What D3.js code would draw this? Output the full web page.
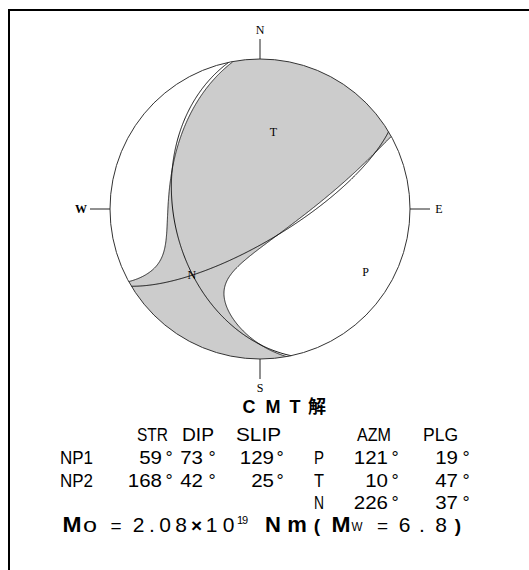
<!DOCTYPE html>
<html>
<head>
<meta charset="utf-8">
<script src="https://cdn.jsdelivr.net/npm/d3@7"></script>
<style>
  html, body { margin: 0; padding: 0; background: #fff; }
  svg { display: block; }
</style>
</head>
<body>
<script>
// ---- Focal mechanism (CMT solution) ----
// Nodal planes
const planeNames = ["NP1", "NP2"];
const strikes = [59, 168];
const dips = [73, 42];
const slips = [129, 25];

// Principal axes (P, T, N): azimuth, plunge and relative eigenvalues
const axisNames = ["P", "T", "N"];
const azimuths = [121, 10, 226];
const plunges = [19, 47, 37];
const eigenvalues = [-1.11, 1.0, 0.11];

// Scalar moment and magnitude
const momentMantissa = "2.08";
const momentExponent = "19";
const magnitude = "6.8";

// Compass directions
const compassLabels = ["N", "E", "S", "W"];
const compassAzimuths = [0, 90, 180, 270];

// Table headers
const planeHeaders = ["STR", "DIP", "SLIP"];
const axisHeaders = ["AZM", "PLG"];

// ---- Layout ----
const W = 529, H = 570;
const cx = 260, cy = 209, R = 150;
const rad = Math.PI / 180;

const svg = d3.select("body").append("svg")
  .attr("width", W).attr("height", H);

// frame
svg.append("rect")
  .attr("x", 9).attr("y", 10).attr("width", 600).attr("height", 600)
  .attr("fill", "none").attr("stroke", "#000").attr("stroke-width", 2);

// unit disc -> screen
const x = d3.scaleLinear().domain([-1, 1]).range([cx - R, cx + R]);
const y = d3.scaleLinear().domain([-1, 1]).range([cy + R, cy - R]);

// vectors are [north, east, down]
function axisVec(az, pl) {
  return [Math.cos(pl * rad) * Math.cos(az * rad),
          Math.cos(pl * rad) * Math.sin(az * rad),
          Math.sin(pl * rad)];
}
// Lower-hemisphere equal-area (Schmidt) projection -> [east, north] in unit disc
function project(v) {
  let [n, e, d] = v;
  if (d < 0) { n = -n; e = -e; d = -d; }
  const k = 1 / Math.sqrt(1 + d);
  return [e * k, n * k];
}
function unproject(e, n) {
  let r2 = e * e + n * n;
  if (r2 > 1) { const r = Math.sqrt(r2); e /= r; n /= r; r2 = 1; }
  const d = 1 - r2;
  const k = Math.sqrt(1 + d);
  return [n * k, e * k, d];
}

const axes = axisNames.map((name, i) => ({
  name, vec: axisVec(azimuths[i], plunges[i]), lambda: eigenvalues[i]
}));

// P-wave first-motion amplitude from the moment tensor
function amplitude(v) {
  let s = 0;
  for (const a of axes) {
    const c = a.vec[0] * v[0] + a.vec[1] * v[1] + a.vec[2] * v[2];
    s += a.lambda * c * c;
  }
  return s;
}

// sample the amplitude over the disc and extract the compressional region
const n = 400, ext = 1.04, step = 2 * ext / n;
const values = new Float64Array(n * n);
for (let j = 0; j < n; j++) {
  for (let i = 0; i < n; i++) {
    const e = -ext + (i + 0.5) * step;
    const nn = ext - (j + 0.5) * step;
    values[j * n + i] = amplitude(unproject(e, nn));
  }
}
const compressional = d3.contours().size([n, n]).thresholds([0])(values)[0];
const gridToScreen = d3.geoTransform({
  point(px, py) { this.stream.point(x(-ext + px * step), y(ext - py * step)); }
});
const gridPath = d3.geoPath(gridToScreen);

svg.append("clipPath").attr("id", "ball")
  .append("circle").attr("cx", cx).attr("cy", cy).attr("r", R);

svg.append("circle").attr("cx", cx).attr("cy", cy).attr("r", R).attr("fill", "#fff");

svg.append("path")
  .attr("d", gridPath(compressional))
  .attr("clip-path", "url(#ball)")
  .attr("fill", "#cccccc")
  .attr("stroke", "#1a1a1a").attr("stroke-width", 0.9);

// nodal planes as great circles
function planeCurve(strike, dip) {
  const s = [Math.cos(strike * rad), Math.sin(strike * rad), 0];
  const dd = [Math.cos(dip * rad) * Math.cos((strike + 90) * rad),
              Math.cos(dip * rad) * Math.sin((strike + 90) * rad),
              Math.sin(dip * rad)];
  return d3.range(0, 180.25, 0.5).map(a => {
    const c = Math.cos(a * rad), sn = Math.sin(a * rad);
    return project([s[0] * c + dd[0] * sn, s[1] * c + dd[1] * sn, s[2] * c + dd[2] * sn]);
  });
}
const line = d3.line().x(p => x(p[0])).y(p => y(p[1]));
svg.selectAll("path.plane")
  .data(strikes.map((s, i) => planeCurve(s, dips[i])))
  .join("path").attr("class", "plane")
  .attr("d", line)
  .attr("fill", "none").attr("stroke", "#000").attr("stroke-width", 0.9);

// outline
svg.append("circle").attr("cx", cx).attr("cy", cy).attr("r", R)
  .attr("fill", "none").attr("stroke", "#333").attr("stroke-width", 1);

// compass ticks and letters
const tickLen = 20;
compassAzimuths.forEach((az, i) => {
  const ux = Math.sin(az * rad), uy = Math.cos(az * rad);
  svg.append("line")
    .attr("x1", x(ux)).attr("y1", y(uy))
    .attr("x2", x(ux * (1 + tickLen / R))).attr("y2", y(uy * (1 + tickLen / R)))
    .attr("stroke", "#222").attr("stroke-width", 1);
  const off = 1 + (tickLen + 9) / R;
  svg.append("text")
    .attr("x", x(ux * off)).attr("y", y(uy * off) + 4)
    .attr("text-anchor", "middle")
    .attr("font-family", "Liberation Serif, Times New Roman, serif")
    .attr("font-size", 12)
    .attr("font-weight", az === 270 ? "bold" : "normal")
    .attr("fill", "#000")
    .text(compassLabels[i]);
});

// axis letters at their projected positions
axes.forEach(a => {
  const p = project(a.vec);
  svg.append("text")
    .attr("x", x(p[0])).attr("y", y(p[1]) + 4)
    .attr("text-anchor", "middle")
    .attr("font-family", "Liberation Serif, Times New Roman, serif")
    .attr("font-size", 12)
    .attr("fill", "#000")
    .text(a.name);
});

// ---- Text block ----
const sans = "Liberation Sans, Arial, Helvetica, sans-serif";
function label(str, px, py, opt = {}) {
  const t = svg.append("text")
    .attr("x", px).attr("y", py)
    .attr("font-family", opt.family || sans)
    .attr("font-size", opt.size || 18)
    .attr("font-weight", opt.weight || "normal")
    .attr("text-anchor", opt.anchor || "start")
    .attr("fill", "#000")
    .text(str);
  if (opt.length) t.attr("textLength", opt.length).attr("lengthAdjust", opt.adjust || "spacingAndGlyphs");
  return t;
}
// lays out a string one character per slot, centred on the given x positions
function spaced(str, xs, py, opt = {}) {
  Array.from(str).forEach((c, i) => label(c, xs[i], py, Object.assign({ anchor: "middle" }, opt)));
}

// title
spaced("CMT解", [249, 273, 295, 317], 413, {
  size: 18, weight: "bold", family: "Liberation Sans, Noto Sans CJK JP, sans-serif"
});

const rowY = [441, 464, 487, 509];
const headerSpan = [[138, 167], [183, 213], [237, 280], [358, 390], [424, 457]];
planeHeaders.concat(axisHeaders).forEach((h, i) =>
  label(h, headerSpan[i][0] - 1, rowY[0], { length: headerSpan[i][1] - headerSpan[i][0] + 2 }));

const digitW = 11.4;
function number(v, endX, py) {
  const s = String(v);
  label(s, endX, py, { anchor: "end", length: s.length * digitW });
}
const numEnd = [162, 203, 274];
const degX = [169, 212, 280];
function degree(px, py) { label("°", px, py, { anchor: "middle" }); }

planeNames.forEach((name, r) => {
  const py = rowY[r + 1];
  label(name, 60, py, { length: 33 });
  [strikes[r], dips[r], slips[r]].forEach((v, c) => {
    number(v, numEnd[c], py);
    degree(degX[c], py);
  });
});

axisNames.forEach((name, r) => {
  const py = rowY[r + 1];
  label(name, 319, py, { anchor: "middle", length: 10 });
  number(azimuths[r], 388, py);
  degree(395, py);
  number(plunges[r], 458, py);
  degree(466, py);
});

// moment line
const moY = 532;
label("M", 72, moY, { size: 22, weight: "bold", anchor: "middle", length: 19 });
label("o", 90, moY, { size: 20, anchor: "middle", length: 14 });
label("=", 116, moY, { size: 19, anchor: "middle" });
spaced(momentMantissa, [138.5, 152, 165, 181], moY, { size: 21 });
label("×", 196.5, moY, { size: 19, weight: "bold", anchor: "middle" });
spaced("10", [211.5, 228.5], moY, { size: 21 });
label(momentExponent, 237, moY - 8, { size: 11, length: 11, adjust: "spacing" });
spaced("Nm", [273, 297], moY, { size: 22, weight: "bold" });
label("(", 317, moY, { size: 19, weight: "bold", anchor: "middle" });
label("M", 341, moY, { size: 22, weight: "bold", anchor: "middle", length: 19 });
label("W", 357, moY - 1, { size: 13, anchor: "middle", length: 11 });
label("=", 382.5, moY, { size: 19, anchor: "middle" });
spaced(magnitude, [404.5, 422, 441], moY, { size: 21 });
label(")", 458, moY, { size: 19, weight: "bold", anchor: "middle" });
</script>
</body>
</html>
